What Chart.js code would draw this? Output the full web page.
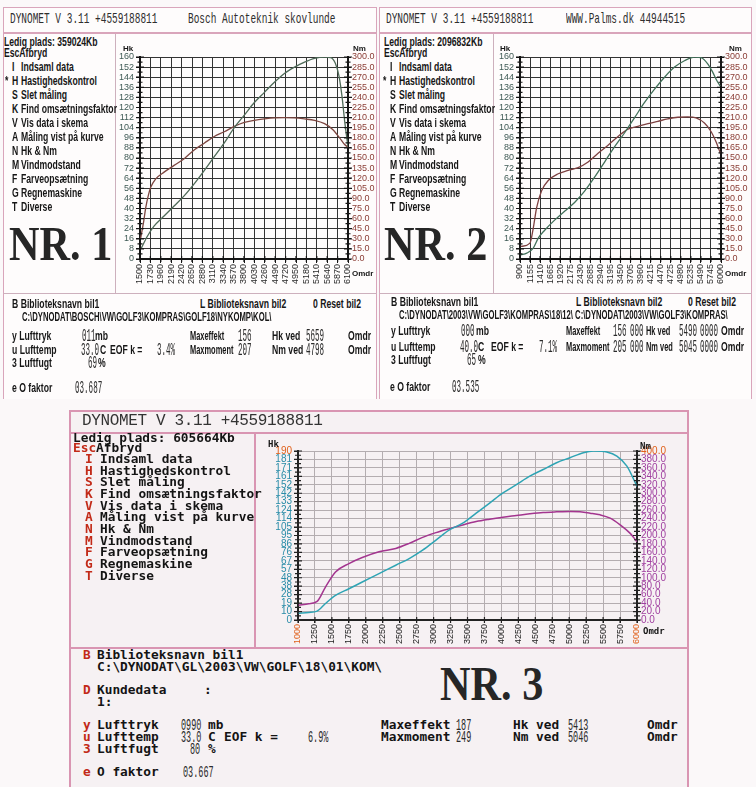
<!DOCTYPE html>
<html><head><meta charset="utf-8"><title>Dynomet</title>
<script src="https://cdn.jsdelivr.net/npm/chart.js@4.4.1/dist/chart.umd.min.js"></script>
<style>
html,body{margin:0;padding:0}
body{width:756px;height:787px;position:relative;overflow:hidden;background:#fbf8f9}
.box{position:absolute;box-sizing:border-box}
.tx{position:absolute;white-space:pre;color:#161616}
.m{font:bold 12px "Liberation Sans",Arial,sans-serif;line-height:14px;margin-top:-7px;transform:scaleX(.72);transform-origin:0 50%}
.m.sq{transform:scaleX(.62)}
.m.sp{transform:scaleX(.64)}
.ttl{font:15px "Liberation Mono",monospace;line-height:16px;margin-top:-8px;transform:scaleX(.63);transform-origin:0 50%;color:#2e2e2e}
.num{font:18px "Liberation Mono",monospace;line-height:18px;margin-top:-9px;transform:scaleX(.42);transform-origin:0 50%;color:#2a2a2a}
.nr{font:bold 48px "Liberation Serif","Times New Roman",serif;line-height:48px;margin-top:-24px;transform:scaleX(.88);transform-origin:0 50%;color:#262626}
.ax{font:bold 8px "Liberation Sans",sans-serif;line-height:9px;margin-top:-4.5px}
.b3{font:bold 12.8px "DejaVu Sans Mono",monospace;line-height:12px;margin-top:-6px;color:#141414}
.t3{font:16px "Liberation Mono",monospace;letter-spacing:-0.35px;line-height:18px;margin-top:-9px;color:#333}
.n3{font:17px "Liberation Mono",monospace;line-height:17px;margin-top:-8.5px;transform:scaleX(.5);transform-origin:0 50%;color:#2a2a2a}
.ax3{font:bold 9px "DejaVu Sans Mono",monospace;line-height:10px;margin-top:-5px}
canvas{position:absolute}
</style></head><body>
<!-- panel 1 frame -->
<div class="box" style="left:3px;top:7px;width:374px;height:392px;border:1px solid #d9a5bb;border-bottom:none;background:#fefcfc"></div>
<div class="box" style="left:3px;top:32px;width:374px;height:2px;background:#d9a5bb"></div>
<div class="box" style="left:115px;top:34px;width:1px;height:259px;background:#cdb0bd"></div>
<div class="box" style="left:3px;top:293px;width:374px;height:1px;background:#cdb0bd"></div>
<!-- panel 2 frame -->
<div class="box" style="left:379px;top:7px;width:373px;height:392px;border:1px solid #d9a5bb;border-bottom:none;background:#fefcfc"></div>
<div class="box" style="left:379px;top:32px;width:373px;height:2px;background:#d9a5bb"></div>
<div class="box" style="left:493px;top:34px;width:1px;height:259px;background:#cdb0bd"></div>
<div class="box" style="left:379px;top:293px;width:373px;height:1px;background:#cdb0bd"></div>
<!-- panel 3 frame -->
<div class="box" style="left:69px;top:410px;width:620px;height:390px;border:2px solid #d995b2;background:#f6f1f3"></div>
<div class="box" style="left:69px;top:432px;width:620px;height:2px;background:#d995b2"></div>
<div class="box" style="left:254px;top:434px;width:2px;height:214px;background:#d995b2"></div>
<div class="box" style="left:69px;top:647px;width:620px;height:2px;background:#d995b2"></div>

<canvas id="c1" width="260" height="256" style="left:116px;top:36px;width:260px;height:256px"></canvas>
<canvas id="c2" width="257" height="256" style="left:494px;top:36px;width:257px;height:256px"></canvas>
<canvas id="c3" width="431" height="213" style="left:256px;top:434px;width:431px;height:213px"></canvas>

<script>
// ---------- DATA ----------
// Panel 1 (Bosch Autoteknik)
const rpmTicks1 = [1500,1730,1960,2190,2420,2650,2880,3110,3340,3570,3800,4030,4260,4490,4720,4950,5180,5410,5640,5870,6100];
const hkTicks12 = [0,8,16,24,32,40,48,56,64,72,80,88,96,104,112,120,128,136,144,152,160];
const nmTicks12 = [0,15,30,45,60,75,90,105,120,135,150,165,180,195,210,225,240,255,270,285,300];
const powerRpm1 = [1530,1663,1810,2032,2254,2476,2698,2920,3142,3364,3585,3807,4029,4251,4472,4694,4916,5138,5360,5582,5720,5820,5900,5970,6030,6100];
const powerHk1  = [8.6,18,26,34,42,50,59.5,70,81,92,104,114,124,132,140,147,152,156,159,160,159.5,155,145,128,108,89];
const torqueRpm1 = [1515,1580,1626,1690,1737,1848,2032,2254,2476,2698,2920,3142,3364,3585,3807,4029,4251,4472,4694,4916,5138,5360,5582,5767,5915,6026,6100];
const torqueNm1  = [31,55,76,96,106.5,119,129,139,149,162,172,182,189,197,203,206,208,209.5,210,209.5,208,206,201,192,180,170,166];

// Panel 2 (Palms.dk)
const rpmTicks2 = [900,1155,1410,1665,1920,2175,2430,2685,2940,3195,3450,3705,3960,4215,4470,4725,4980,5235,5490,5745,6000];
const powerRpm2 = [920,1070,1237,1364,1532,1785,2038,2291,2544,2797,3050,3302,3555,3808,4061,4314,4567,4820,5073,5326,5494,5663,5789,5900,5980];
const powerHk2  = [3.2,4.6,8.6,16.6,23,31,38,45,54,65,77,89,100,112,124,134.5,144,152,157,160,159.5,154.6,148,141,137];
const torqueRpm2 = [920,1153,1237,1321,1448,1617,1869,2122,2375,2628,2881,3134,3387,3640,3893,4146,4398,4651,4904,5157,5368,5579,5747,5874,5984];
const torqueNm2  = [18.6,23.6,46,76,101.5,116.6,126.6,131.7,135.7,144,157,169,182,193,197,201,204.5,208,210.5,211,209.5,202,189.4,174,157];

// Panel 3
const rpmTicks3 = [1000,1250,1500,1750,2000,2250,2500,2750,3000,3250,3500,3750,4000,4250,4500,4750,5000,5250,5500,5750,6000];
const hkLabels3 = ['0','10','19','28','38','48','57','67','76','86','95','105','114','124','133','142','152','161','171','181','190'];
const nmTicks3 = [0,20,40,60,80,100,120,140,160,180,200,220,240,260,280,300,320,340,360,380,400];
const powerRpm3 = [1010,1158,1282,1405,1553,1751,1948,2195,2442,2640,2838,3035,3233,3430,3628,3826,4023,4221,4418,4616,4814,5011,5209,5357,5555,5703,5851,6000];
const powerHk3  = [7.5,8.5,10,18.5,27.6,35.1,42.7,52.1,61.6,69.1,78.6,89.9,101.2,108.8,120.1,131.4,142.8,152.2,161.7,169.2,176.8,182.4,188.1,190,188.9,184.3,173,150.3];
const torqueRpm3 = [1010,1158,1282,1405,1553,1751,1948,2195,2442,2640,2838,3035,3233,3430,3628,3826,4023,4221,4418,4616,4814,5011,5159,5308,5456,5604,5752,5900,6000];
const torqueNm3  = [35,38.5,44,78,113.7,133.6,147.9,161.4,169.4,181.3,195.6,206.8,216.3,225,233,238.6,243.3,247.3,251.3,254.5,256,256.9,256,252.9,248.9,241,225,205,185];

// ---------- TEXT ----------
const RED = '#c22a18';
function T(x, y, s, cls, col) {
  const d = document.createElement('div');
  d.className = 'tx ' + cls;
  d.style.left = x + 'px'; d.style.top = y + 'px';
  d.textContent = s;
  if (col) d.style.color = col;
  document.body.appendChild(d);
}
const menu = [['I','Indsaml data'],['H','Hastighedskontrol'],['S','Slet måling'],['K','Find omsætningsfaktor'],['V','Vis data i skema'],['A','Måling vist på kurve'],['N','Hk & Nm'],['M','Vindmodstand'],['F','Farveopsætning'],['G','Regnemaskine'],['T','Diverse']];

// panel 1
T(10,20,'DYNOMET V 3.11 +4559188811','ttl');
T(188,20,'Bosch Autoteknik skovlunde','ttl');
T(4,42,'Ledig plads: 359024Kb','m');
T(4,53,'EscAfbryd','m');
menu.forEach((it,i)=>{ T(12,67+14*i,it[0],'m'); T(21,67+14*i,it[1],'m'); });
T(5,81,'*','m');
T(9,244,'NR. 1','nr');
T(12,304,'B Biblioteksnavn bil1','m'); T(200,304,'L Biblioteksnavn bil2','m'); T(313,304,'0 Reset bil2','m');
T(22,317,'C:\\DYNODAT\\BOSCH\\VW\\GOLF3\\KOMPRAS\\GOLF18\\NYKOMP\\KOL\\','m sp');
T(12,336,'y Lufttryk','m'); T(82,336,'011','num'); T(95,336,'mb','m');
T(190,336,'Maxeffekt','m sq'); T(238,336,'156','num'); T(272,336,'Hk ved','m'); T(306,336,'5659','num'); T(348,336,'Omdr','m');
T(12,350,'u Lufttemp','m'); T(81,350,'33.0','num'); T(100,350,'C','m'); T(110,350,'EOF k =','m'); T(157,350,'3.4%','num');
T(190,350,'Maxmoment','m sq'); T(238,350,'207','num'); T(272,350,'Nm ved','m'); T(306,350,'4798','num'); T(348,350,'Omdr','m');
T(12,363,'3 Luftfugt','m'); T(88,363,'69','num'); T(98,363,'%','m');
T(12,388,'e O faktor','m'); T(75,388,'03.687','num');
T(123,48,'Hk','ax'); T(353,48,'Nm','ax'); T(352,273,'Omdr','ax');

// panel 2
T(386,20,'DYNOMET V 3.11 +4559188811','ttl');
T(566,20,'WWW.Palms.dk 44944515','ttl');
T(384,42,'Ledig plads: 2096832Kb','m');
T(384,53,'EscAfbryd','m');
menu.forEach((it,i)=>{ T(390,67+14*i,it[0],'m'); T(399,67+14*i,it[1],'m'); });
T(383,81,'*','m');
T(384,244,'NR. 2','nr');
T(391,302,'B Biblioteksnavn bil1','m'); T(576,302,'L Biblioteksnavn bil2','m'); T(688,302,'0 Reset bil2','m');
T(399,315,'C:\\DYNODAT\\2003\\VW\\GOLF3\\KOMPRAS\\18\\12\\ C:\\DYNODAT\\2003\\VW\\GOLF3\\KOMPRAS\\','m sp');
T(391,331,'y Lufttryk','m'); T(461,331,'000','num'); T(476,331,'mb','m');
T(566,331,'Maxeffekt','m sq'); T(613,331,'156','num'); T(630,331,'000','num'); T(646,331,'Hk ved','m sq'); T(679,331,'5490','num'); T(700,331,'0000','num'); T(721,331,'Omdr','m');
T(391,347,'u Lufttemp','m'); T(460,347,'40.0','num'); T(478,347,'C','m'); T(491,347,'EOF k =','m'); T(539,347,'7.1%','num');
T(566,347,'Maxmoment','m sq'); T(613,347,'205','num'); T(630,347,'000','num'); T(646,347,'Nm ved','m sq'); T(679,347,'5045','num'); T(700,347,'0000','num'); T(721,347,'Omdr','m');
T(391,360,'3 Luftfugt','m'); T(467,360,'65','num'); T(478,360,'%','m');
T(390,387,'e O faktor','m'); T(452,387,'03.535','num');
T(500,48,'Hk','ax'); T(729,48,'Nm','ax'); T(725,273,'Omdr','ax');

// panel 3
T(82,421,'DYNOMET V 3.11 +4559188811','t3');
T(73,438,'Ledig plads: 605664Kb','b3');
T(73,448,'Esc','b3',RED); T(96,448,'Afbryd','b3');
menu.forEach((it,i)=>{ T(85,459+11.67*i,it[0],'b3',RED); T(100,459+11.67*i,it[1],'b3'); });
T(83,655,'B','b3',RED); T(97,655,'Biblioteksnavn bil1','b3');
T(97,667,'C:\\DYNODAT\\GL\\2003\\VW\\GOLF\\18\\01\\KOM\\','b3');
T(440,684,'NR. 3','nr');
T(83,690,'D','b3',RED); T(97,690,'Kundedata','b3'); T(204,690,':','b3');
T(97,702,'1:','b3');
T(83,725,'y','b3',RED); T(97,725,'Lufttryk','b3'); T(181,725,'0990','n3'); T(208,725,'mb','b3');
T(381,725,'Maxeffekt','b3'); T(456,725,'187','n3'); T(513,725,'Hk ved','b3'); T(568,725,'5413','n3'); T(647,725,'Omdr','b3');
T(83,737,'u','b3',RED); T(97,737,'Lufttemp','b3'); T(181,737,'33.0','n3'); T(208,737,'C','b3'); T(224,737,'EOF k =','b3'); T(308,737,'6.9%','n3');
T(381,737,'Maxmoment','b3'); T(456,737,'249','n3'); T(513,737,'Nm ved','b3'); T(568,737,'5046','n3'); T(647,737,'Omdr','b3');
T(83,749,'3','b3',RED); T(97,749,'Luftfugt','b3'); T(190,749,'80','n3'); T(208,749,'%','b3');
T(83,772,'e','b3',RED); T(97,772,'O faktor','b3'); T(183,772,'03.667','n3');
T(268,444,'Hk','ax3'); T(640,446,'Nm','ax3'); T(643,631,'Omdr','ax3');

// ---------- CHARTS ----------
const ruler = {
  id: 'ruler',
  afterDraw(chart, args, o) {
    const ctx = chart.ctx, a = chart.chartArea;
    ctx.save();
    ctx.strokeStyle = o.color; ctx.lineWidth = o.width;
    ctx.beginPath();
    ['y','y2'].forEach(id => {
      const s = chart.scales[id];
      const x = id === 'y' ? a.left : a.right;
      const px = s.ticks.map(t => s.getPixelForValue(t.value));
      px.forEach((p, i) => {
        ctx.moveTo(x - o.len, p); ctx.lineTo(x + o.len, p);
        if (i < px.length - 1) { const m = (p + px[i+1]) / 2; ctx.moveTo(x - o.minor, m); ctx.lineTo(x + o.minor, m); }
      });
    });
    const sx = chart.scales.x;
    sx.ticks.forEach(t => { const p = sx.getPixelForValue(t.value); ctx.moveTo(p, a.bottom - o.xlen); ctx.lineTo(p, a.bottom + o.xlen); });
    ctx.stroke();
    ctx.restore();
  }
};
const pts = (xs, ys) => xs.map((x, i) => ({ x: x, y: ys[i] }));
const tickSet = arr => s => { s.ticks = arr.map(v => ({ value: v })); };

function dyno(id, c) {
  return new Chart(document.getElementById(id), {
    type: 'line',
    data: { datasets: [
      { data: pts(c.pRpm, c.pVal), borderColor: c.pColor, borderWidth: c.lw, pointRadius: 0, cubicInterpolationMode: 'monotone', yAxisID: 'y' },
      { data: pts(c.tRpm, c.tVal), borderColor: c.tColor, borderWidth: c.lw, pointRadius: 0, cubicInterpolationMode: 'monotone', yAxisID: 'y2' }
    ]},
    options: {
      responsive: false, animation: false, events: [],
      layout: { padding: { top: c.padTop, left: 0, right: 0, bottom: 0 } },
      plugins: { legend: { display: false }, tooltip: { enabled: false }, ruler: c.ruler },
      scales: {
        x: {
          type: 'linear', min: c.xTicks[0], max: c.xTicks[c.xTicks.length - 1],
          afterBuildTicks: tickSet(c.xTicks),
          afterFit: s => { s.height = c.xH; },
          ticks: { autoSkip: false, minRotation: 90, maxRotation: 90, padding: c.xPad, font: c.xFont, color: c.xColor, callback: v => String(v) },
          grid: { color: c.grid, lineWidth: 1, tickLength: c.xTick, tickColor: c.axis },
          border: { display: true, color: c.axis, width: 2 }
        },
        y: {
          type: 'linear', position: 'left', min: 0, max: c.hkMax,
          afterBuildTicks: tickSet(c.hkTicks),
          afterFit: s => { s.width = c.yW; },
          ticks: { autoSkip: false, padding: 2, font: c.yFont, color: c.yColor, callback: c.hkLabel },
          grid: { color: c.grid, lineWidth: 1, tickLength: 4, tickColor: c.axis },
          border: { display: true, color: c.axis, width: 2 }
        },
        y2: {
          type: 'linear', position: 'right', min: 0, max: c.nmMax,
          afterBuildTicks: tickSet(c.nmTicks),
          afterFit: s => { s.width = c.y2W; },
          ticks: { autoSkip: false, padding: 1, font: c.yFont, color: c.y2Color, callback: v => v.toFixed(1) },
          grid: { drawOnChartArea: false, tickLength: 3, color: c.axis },
          border: { display: true, color: c.axis, width: 2 }
        }
      }
    },
    plugins: [ruler]
  });
}

const F9 = { family: '"Liberation Sans", Arial, sans-serif', size: 9 };
const F10 = { family: '"Liberation Sans", Arial, sans-serif', size: 10 };
const rulerDark = { color: '#151515', width: 1.2, len: 4, minor: 2.5, xlen: 3 };

dyno('c1', {
  pRpm: powerRpm1, pVal: powerHk1, tRpm: torqueRpm1, tVal: torqueNm1,
  pColor: '#4f6a58', tColor: '#7d4640', lw: 1.3,
  xTicks: rpmTicks1, hkTicks: hkTicks12, nmTicks: nmTicks12, hkMax: 160, nmMax: 300,
  hkLabel: v => String(v),
  padTop: 21, xH: 33, yW: 24, y2W: 28, xPad: 1, xTick: 4,
  xFont: F9, yFont: F9, xColor: '#2a2a2a', yColor: '#3f5a55', y2Color: '#8a3c34',
  grid: '#333333', axis: '#151515', ruler: rulerDark
});
dyno('c2', {
  pRpm: powerRpm2, pVal: powerHk2, tRpm: torqueRpm2, tVal: torqueNm2,
  pColor: '#43705a', tColor: '#7d4040', lw: 1.3,
  xTicks: rpmTicks2, hkTicks: hkTicks12, nmTicks: nmTicks12, hkMax: 160, nmMax: 300,
  hkLabel: v => String(v),
  padTop: 21, xH: 33, yW: 26, y2W: 30, xPad: 1, xTick: 4,
  xFont: F9, yFont: F9, xColor: '#2a2a2a', yColor: '#3f5a55', y2Color: '#8a3c34',
  grid: '#333333', axis: '#151515', ruler: rulerDark
});
dyno('c3', {
  pRpm: powerRpm3, pVal: powerHk3, tRpm: torqueRpm3, tVal: torqueNm3,
  pColor: '#2ea4b4', tColor: '#a3358f', lw: 1.5,
  xTicks: rpmTicks3, hkTicks: hkLabels3.map((l, i) => i * 190 / (hkLabels3.length - 1)), nmTicks: nmTicks3, hkMax: 190, nmMax: 400,
  hkLabel: (v, i) => hkLabels3[i],
  padTop: 17, xH: 27, yW: 42, y2W: 50, xPad: 1, xTick: 3,
  xFont: F9, yFont: F10,
  xColor: c => (c.index === 0 || c.index === rpmTicks3.length - 1) ? '#e0601a' : '#222',
  yColor: c => c.index === hkLabels3.length - 1 ? '#e0601a' : '#2a8ca8',
  y2Color: c => c.index === nmTicks3.length - 1 ? '#e0601a' : '#a040a0',
  grid: '#b4adb0', axis: '#222', ruler: { color: '#222', width: 1.2, len: 4, minor: 3, xlen: 3 }
});
</script>
</body></html>
